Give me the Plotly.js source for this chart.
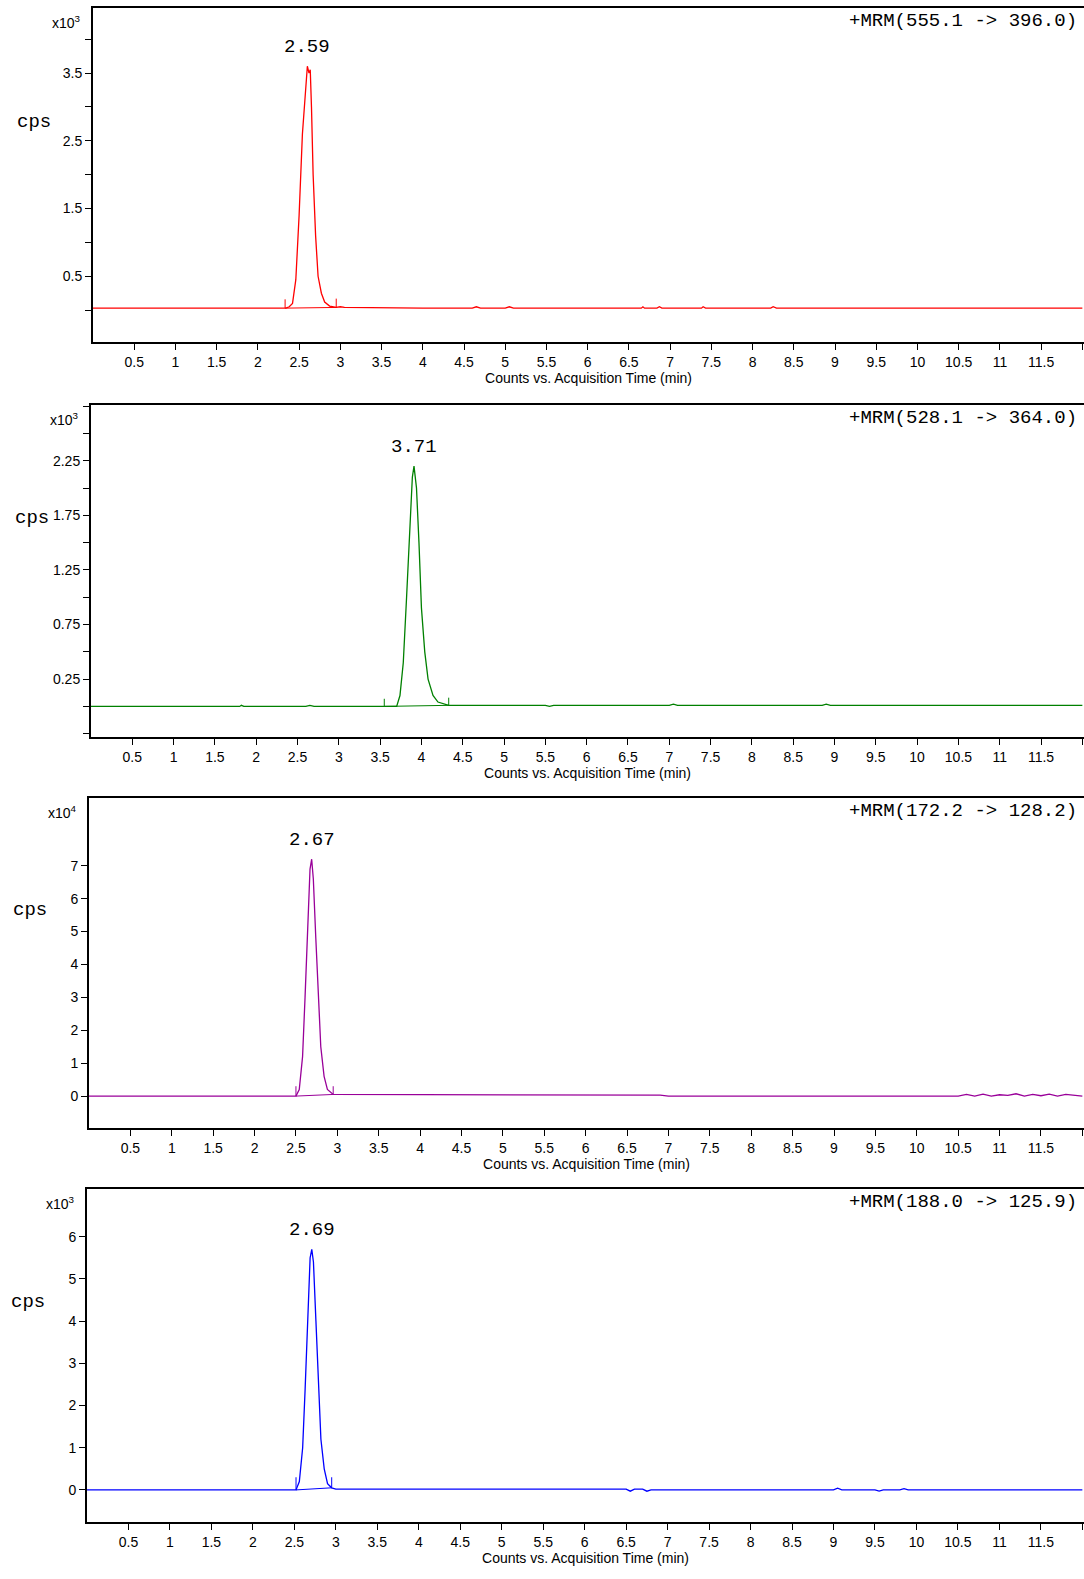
<!DOCTYPE html>
<html>
<head>
<meta charset="utf-8">
<script src="https://cdn.plot.ly/plotly-3.0.1.min.js"></script>
<style>
  body { margin: 0; background: #fff; overflow: hidden; }
  .panel { position: absolute; left: 0; width: 1084px; }
</style>
</head>
<body>
<div id="p1" class="panel" style="top:0;height:395px"></div>
<div id="p2" class="panel" style="top:395px;height:395px"></div>
<div id="p3" class="panel" style="top:790px;height:393px"></div>
<div id="p4" class="panel" style="top:1183px;height:396px"></div>
<script>
// x-axis ticks (min)
const xTickVals = [0.5, 1, 1.5, 2, 2.5, 3, 3.5, 4, 4.5, 5, 5.5, 6, 6.5, 7, 7.5, 8, 8.5, 9, 9.5, 10, 10.5, 11, 11.5, 12];
const xTickText = ['0.5', '1', '1.5', '2', '2.5', '3', '3.5', '4', '4.5', '5', '5.5', '6', '6.5', '7', '7.5', '8', '8.5', '9', '9.5', '10', '10.5', '11', '11.5', ''];

// Panel 1: +MRM (555.1 -> 396.0), x10^3
const t1 = [0, 2.33, 2.34, 2.38, 2.42, 2.46, 2.50, 2.54, 2.58, 2.60, 2.62, 2.635, 2.65, 2.67, 2.70, 2.73, 2.77, 2.81, 2.87, 2.95, 3.0, 3.05, 4.0, 4.6, 4.65, 4.7, 5.0, 5.05, 5.1, 6.65, 6.67, 6.69, 6.84, 6.87, 6.9, 7.38, 7.4, 7.43, 8.22, 8.25, 8.29, 12.0];
const y1 = [0.03, 0.03, 0.03, 0.05, 0.1, 0.45, 1.4, 2.6, 3.3, 3.6, 3.5, 3.55, 3.0, 2.0, 1.1, 0.5, 0.25, 0.12, 0.06, 0.04, 0.05, 0.04, 0.03, 0.03, 0.05, 0.03, 0.03, 0.05, 0.03, 0.03, 0.05, 0.03, 0.03, 0.05, 0.03, 0.03, 0.05, 0.03, 0.03, 0.05, 0.03, 0.03];
const mark1X = [2.33, 2.33, null, 2.95, 2.95, null, 2.33, 2.95];
const mark1Y = [0.03, 0.16, null, 0.04, 0.17, null, 0.03, 0.04];

// Panel 2: +MRM (528.1 -> 364.0), x10^3
const t2 = [0, 1.8, 1.82, 1.85, 2.6, 2.65, 2.7, 3.0, 3.55, 3.70, 3.74, 3.78, 3.82, 3.86, 3.89, 3.91, 3.94, 3.97, 4.00, 4.04, 4.08, 4.14, 4.20, 4.33, 5.5, 5.55, 5.6, 7.0, 7.05, 7.1, 8.85, 8.9, 8.95, 12.0];
const y2 = [0.0, 0.0, 0.01, 0.0, 0.0, 0.01, 0.0, 0.0, 0.0, 0.0, 0.1, 0.4, 1.0, 1.7, 2.1, 2.2, 2.0, 1.5, 0.9, 0.5, 0.25, 0.1, 0.04, 0.01, 0.01, 0.0, 0.01, 0.01, 0.02, 0.01, 0.01, 0.02, 0.01, 0.01];
const mark2X = [3.55, 3.55, null, 4.33, 4.33, null, 3.55, 4.33];
const mark2Y = [0.0, 0.07, null, 0.01, 0.08, null, 0.0, 0.01];

// Panel 3: +MRM (172.2 -> 128.2), x10^4
const t3 = [0, 2.5, 2.54, 2.58, 2.61, 2.64, 2.67, 2.69, 2.71, 2.74, 2.77, 2.80, 2.84, 2.88, 2.95, 3.0, 6.9, 7.0, 10.5, 10.6, 10.7, 10.8, 10.9, 11.0, 11.1, 11.2, 11.3, 11.4, 11.5, 11.6, 11.7, 11.8, 11.9, 12.0];
const y3 = [0.0, 0.0, 0.2, 1.2, 3.0, 5.2, 6.9, 7.2, 6.6, 4.8, 3.0, 1.5, 0.6, 0.2, 0.05, 0.05, 0.03, 0.0, 0.0, 0.05, 0.0, 0.06, 0.0, 0.04, 0.02, 0.07, 0.0, 0.05, 0.01, 0.06, 0.0, 0.05, 0.02, 0.0];
const mark3X = [2.5, 2.5, null, 2.95, 2.95, null, 2.5, 2.95];
const mark3Y = [0.0, 0.3, null, 0.05, 0.3, null, 0.0, 0.05];

// Panel 4: +MRM (188.0 -> 125.9), x10^3
const t4 = [0, 2.52, 2.56, 2.60, 2.63, 2.66, 2.69, 2.71, 2.73, 2.76, 2.79, 2.82, 2.86, 2.90, 2.95, 3.0, 6.5, 6.55, 6.6, 6.7, 6.75, 6.8, 9.0, 9.05, 9.1, 9.5, 9.55, 9.6, 9.8, 9.85, 9.9, 10.5, 12.0];
const y4 = [0.0, 0.0, 0.2, 1.0, 2.4, 4.2, 5.5, 5.7, 5.4, 4.0, 2.5, 1.2, 0.5, 0.15, 0.05, 0.02, 0.02, -0.03, 0.02, 0.02, -0.03, 0.0, 0.0, 0.04, 0.0, 0.0, -0.03, 0.0, 0.0, 0.03, 0.0, 0.0, 0.0];
const mark4X = [2.52, 2.52, null, 2.95, 2.95, null, 2.52, 2.95];
const mark4Y = [0.0, 0.3, null, 0.05, 0.3, null, 0.0, 0.05];

const panels = [
  { id: 'p1', t: t1, y: y1, mx: mark1X, my: mark1Y, color: '#ff0000', exp: '3', mrm: '+MRM(555.1 -> 396.0)', rt: '2.59', rtX: 2.6, rtY: 3.6,
    yr: [-0.47, 4.46], yTickVals: [0.5, 1.5, 2.5, 3.5], yTickText: ['0.5', '1.5', '2.5', '3.5'], yMinor: 0.5, mt: 8, mb: 53, ml: 93 },
  { id: 'p2', t: t2, y: y2, mx: mark2X, my: mark2Y, color: '#008000', exp: '3', mrm: '+MRM(528.1 -> 364.0)', rt: '3.71', rtX: 3.91, rtY: 2.2,
    yr: [-0.28, 2.76], yTickVals: [0.25, 0.75, 1.25, 1.75, 2.25], yTickText: ['0.25', '0.75', '1.25', '1.75', '2.25'], yMinor: 0.25, mt: 10, mb: 53, ml: 91 },
  { id: 'p3', t: t3, y: y3, mx: mark3X, my: mark3Y, color: '#990099', exp: '4', mrm: '+MRM(172.2 -> 128.2)', rt: '2.67', rtX: 2.69, rtY: 7.2,
    yr: [-0.97, 9.06], yTickVals: [0, 1, 2, 3, 4, 5, 6, 7], yTickText: ['0', '1', '2', '3', '4', '5', '6', '7'], yMinor: null, mt: 8, mb: 55, ml: 89 },
  { id: 'p4', t: t4, y: y4, mx: mark4X, my: mark4Y, color: '#0000ff', exp: '3', mrm: '+MRM(188.0 -> 125.9)', rt: '2.69', rtX: 2.71, rtY: 5.7,
    yr: [-0.76, 7.13], yTickVals: [0, 1, 2, 3, 4, 5, 6], yTickText: ['0', '1', '2', '3', '4', '5', '6'], yMinor: null, mt: 6, mb: 57, ml: 87 },
];

const tickFont = { family: 'Liberation Sans, Arial, sans-serif', size: 14, color: '#000' };
const monoFont = { family: 'Liberation Mono, Courier New, monospace', size: 19, color: '#000' };

panels.forEach(p => {
  const traces = [
    { x: p.t, y: p.y, type: 'scatter', mode: 'lines', line: { color: p.color, width: 1.3 }, hoverinfo: 'skip' },
    { x: p.mx, y: p.my, type: 'scatter', mode: 'lines', line: { color: p.color, width: 1 }, hoverinfo: 'skip' },
  ];
  const yaxis = {
    range: p.yr, showgrid: false, zeroline: false, showline: true, linecolor: '#000', linewidth: 2,
    ticks: 'outside', ticklen: 6, tickcolor: '#000', tickvals: p.yTickVals, ticktext: p.yTickText, tickfont: tickFont,
  };
  if (p.yMinor) yaxis.minor = { dtick: p.yMinor, tick0: 0, ticks: 'outside', ticklen: 6, tickcolor: '#000' };
  const layout = {
    showlegend: false, plot_bgcolor: '#fff', paper_bgcolor: '#fff',
    margin: { l: p.ml, r: 0, t: p.mt, b: p.mb },
    xaxis: {
      range: [0, 12.02], showgrid: false, zeroline: false, showline: true, mirror: true, linecolor: '#000', linewidth: 2,
      ticks: 'outside', ticklen: 6, tickcolor: '#000', tickvals: xTickVals, ticktext: xTickText, tickfont: tickFont,
      title: { text: 'Counts vs. Acquisition Time (min)', font: tickFont, standoff: 2 },
    },
    yaxis: yaxis,
    annotations: [
      { xref: 'paper', yref: 'paper', x: -0.01, y: 0.99, xanchor: 'right', yanchor: 'top', showarrow: false,
        text: 'x10<sup>' + p.exp + '</sup>', font: tickFont },
      { xref: 'paper', yref: 'paper', x: -0.04, y: 0.66, xanchor: 'right', yanchor: 'middle', showarrow: false,
        text: 'cps', font: monoFont },
      { xref: 'paper', yref: 'paper', x: 0.995, y: 1.0, xanchor: 'right', yanchor: 'top', showarrow: false,
        text: p.mrm, font: monoFont },
      { x: p.rtX, y: p.rtY, xanchor: 'center', yanchor: 'bottom', yshift: 6, showarrow: false,
        text: p.rt, font: monoFont },
    ],
  };
  Plotly.newPlot(p.id, traces, layout, { displayModeBar: false, staticPlot: true });
});
</script>
</body>
</html>
